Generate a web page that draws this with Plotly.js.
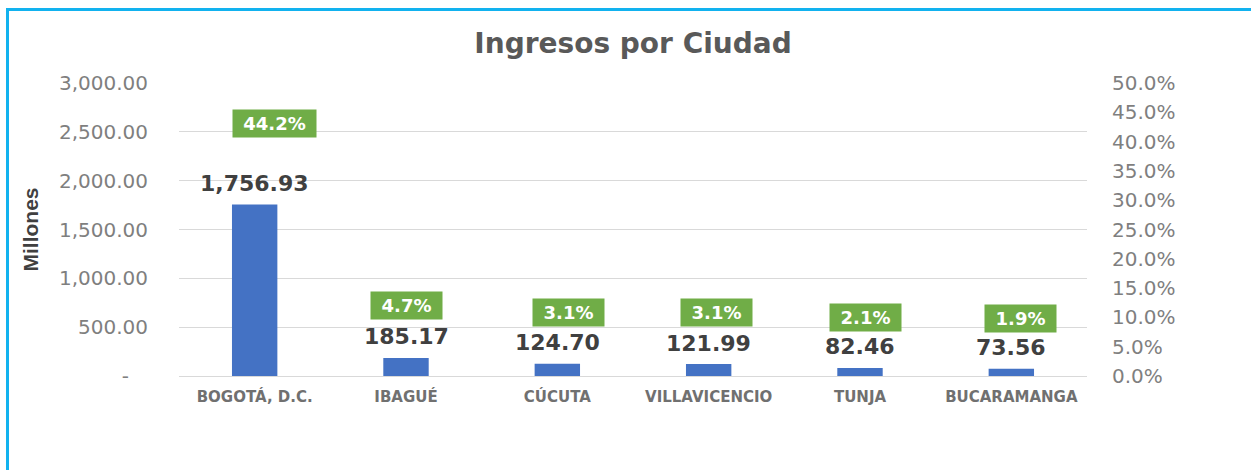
<!DOCTYPE html>
<html>
<head>
<meta charset="utf-8">
<script src="https://cdn.plot.ly/plotly-3.0.1.min.js"></script>
<style>
  html, body { margin: 0; padding: 0; background: #ffffff; }
  #chart { width: 1251px; height: 470px; }
  #frame { position: absolute; left: 6px; top: 8px; width: 2000px; height: 2000px;
           border-top: 3px solid #12B2EF; border-left: 3px solid #12B2EF; pointer-events: none; }
</style>
</head>
<body>
<div id="chart"></div>
<div id="frame"></div>
<script>
const categories = ['BOGOTÁ, D.C.', 'IBAGUÉ', 'CÚCUTA', 'VILLAVICENCIO', 'TUNJA', 'BUCARAMANGA'];
const ingresos = [1756.93, 185.17, 124.70, 121.99, 82.46, 73.56];
const participacion = [0.442, 0.047, 0.031, 0.031, 0.021, 0.019];
const leftTickVals = [0, 500, 1000, 1500, 2000, 2500, 3000];
const leftTickText = ['-\u00a0\u00a0\u00a0', '500.00', '1,000.00', '1,500.00', '2,000.00', '2,500.00', '3,000.00'];

// label styling (pixel nudges of the percentage boxes, as placed in the original)
const pctLabelNudge = [20, 0, 11, 8, 5, 9];

const fmtMoney = v => v.toLocaleString('en-US', {minimumFractionDigits: 2, maximumFractionDigits: 2});
const fmtPct = v => (v * 100).toFixed(1) + '%';

const FONT = 'DejaVu Sans, Verdana, sans-serif';

const traces = [
  {
    type: 'bar', x: categories, y: ingresos, yaxis: 'y',
    marker: {color: '#4472C4'}, hoverinfo: 'x+y', showlegend: false
  },
  {
    type: 'scatter', mode: 'markers', x: categories, y: participacion, yaxis: 'y2',
    marker: {opacity: 0}, hoverinfo: 'skip', showlegend: false
  },
  {
    type: 'scatter', mode: 'markers', x: categories, y: participacion, yaxis: 'y3',
    marker: {opacity: 0}, hoverinfo: 'skip', showlegend: false
  }
];

const annotations = [];
categories.forEach((c, i) => {
  annotations.push({
    x: c, y: ingresos[i], xref: 'x', yref: 'y', showarrow: false,
    text: fmtMoney(ingresos[i]), yanchor: 'middle', yshift: 21,
    font: {family: FONT, size: 22, color: '#404040', weight: 'bold'}
  });
  const t = fmtPct(participacion[i]);
  annotations.push({
    x: c, y: participacion[i], xref: 'x', yref: 'y3', showarrow: false,
    text: '<b>' + t + '</b>', yanchor: 'middle', xshift: pctLabelNudge[i],
    bgcolor: '#70AD47', width: 12 * t.length + 23, height: 27, borderpad: 0,
    font: {family: FONT, size: 18, color: '#ffffff'}
  });
});

const layout = {
  width: 1251, height: 470,
  margin: {l: 179, r: 164, t: 83, b: 94},
  paper_bgcolor: '#ffffff', plot_bgcolor: '#ffffff',
  title: {
    text: '<b>Ingresos por Ciudad</b>', x: 0.5, xref: 'paper',
    y: 1 - 43 / 470, yref: 'container', yanchor: 'middle',
    font: {family: FONT, size: 28, color: '#595959'}
  },
  bargap: 0.7,
  xaxis: {
    type: 'category', showgrid: false, showline: true, linecolor: '#D9D9D9', linewidth: 1,
    ticks: '', ticklabelstandoff: 7,
    tickfont: {family: FONT, size: 15, color: '#707070', weight: 'bold'}
  },
  yaxis: {
    range: [0, 3000], tickvals: leftTickVals, ticktext: leftTickText,
    showgrid: true, gridcolor: '#D9D9D9', gridwidth: 1, zeroline: false,
    ticks: '', ticklabelstandoff: 30,
    tickfont: {family: FONT, size: 20, color: '#7F7F7F'},
    title: {text: '<b>Millones</b>', standoff: 14,
            font: {family: 'Liberation Sans Narrow, Arial Narrow, sans-serif', size: 21, color: '#404040'}}
  },
  yaxis2: {
    overlaying: 'y', side: 'right', range: [0, 0.5], dtick: 0.05, tickformat: '.1%',
    showgrid: false, zeroline: false, ticks: '', ticklabelstandoff: 24,
    tickfont: {family: FONT, size: 20, color: '#7F7F7F'}
  },
  yaxis3: {
    overlaying: 'y', range: [-0.107, 0.53], visible: false, showgrid: false, zeroline: false
  },
  annotations: annotations,
  showlegend: false
};

Plotly.newPlot('chart', traces, layout, {displayModeBar: false, staticPlot: true});
</script>
</body>
</html>
